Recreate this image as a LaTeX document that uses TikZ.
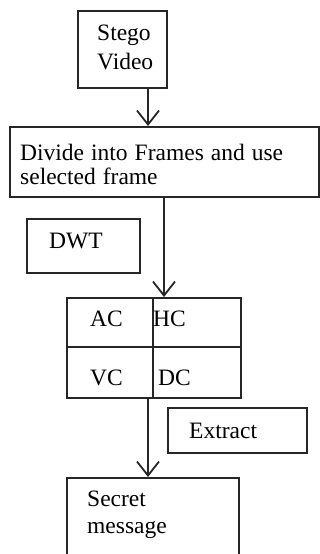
\documentclass[tikz,border=0pt]{standalone}
\usepackage{fontspec}
\setmainfont{Liberation Serif}
\usetikzlibrary{arrows.meta}
\begin{document}
\begin{tikzpicture}[x=1pt,y=-1pt,
  box/.style={draw=black!85,line width=1.8pt,rectangle,inner sep=0pt,anchor=north west},
  lbl/.style={anchor=base west,inner sep=0pt,font=\fontsize{23.5}{26}\selectfont},
  arr/.style={draw=black!85,line width=2pt,-{Straight Barb[length=14pt,width=22pt,line width=1.8pt]}}]
\useasboundingbox (0,0) rectangle (320,554);
\clip (0,0) rectangle (320,554);
% boxes
\node[box,minimum width=89pt,minimum height=77pt] (stego) at (77,10) {};
\node[box,minimum width=309pt,minimum height=70pt] (divide) at (9,126) {};
\node[box,minimum width=113pt,minimum height=54pt] (dwt) at (26,218) {};
\node[box,minimum width=174pt,minimum height=100pt] (grid) at (66,297) {};
\node[box,minimum width=139pt,minimum height=45pt] (extract) at (167,407) {};
\node[box,minimum width=172pt,minimum height=100pt] (secret) at (66,477) {};
% sub-band dividers
\draw[draw=black!85,line width=1.8pt] (grid.west |- 0,347) coordinate (gl) -- (grid.east |- gl);
\draw[draw=black!85,line width=1.8pt] (grid.north -| 153,0) coordinate (gt) -- (grid.south -| gt);
% labels
\node[lbl] (t1) at (97,40) {Stego};
\node[lbl] (t2) at (97,69) {Video};
\node[lbl] (t3) at (20,160) {\spaceskip=7pt Divide into Frames and use};
\node[lbl] (t4) at (20,184) {\spaceskip=7pt selected frame};
\node[lbl] (t5) at (49,248) {DWT};
\node[lbl] (t6) at (90,326) {AC};
\node[lbl] (t7) at (153,326) {HC};
\node[lbl] (t8) at (90,385) {VC};
\node[lbl] (t9) at (158,385) {DC};
\node[lbl] (t10) at (189,438) {Extract};
\node[lbl] (t11) at (87,506) {Secret};
\node[lbl] (t12) at (87,533) {message};
% connectors
\coordinate (c1) at (148,0);
\coordinate (c2) at (164,0);
\draw[arr] (stego.south -| c1) -- (divide.north -| c1);
\draw[arr] (divide.south -| c2) -- (grid.north -| c2);
\draw[arr] (grid.south -| c1) -- (secret.north -| c1);
\end{tikzpicture}
\end{document}
